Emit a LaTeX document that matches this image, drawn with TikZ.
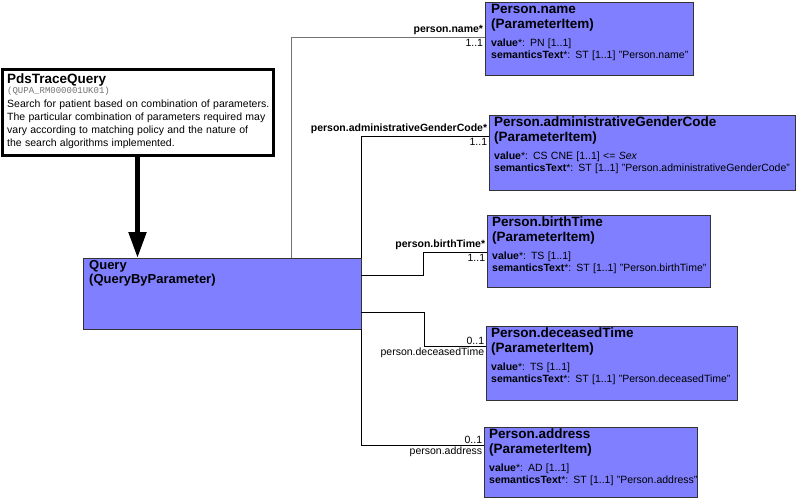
\documentclass[tikz,border=0pt]{standalone}
\usepackage{fontspec}
\setmainfont{Liberation Sans}
\newfontfamily\codefont{Liberation Mono}
\usetikzlibrary{arrows.meta,calc}
\definecolor{rimblue}{RGB}{127,127,255}
\tikzset{
  clsbox/.style  ={draw=black!80, fill=rimblue, line width=0.9pt, anchor=north west,
                   inner sep=0pt, outer sep=0pt},
  clstxt/.style  ={anchor=north west, align=left, inner sep=0pt},
  entrybox/.style={draw=black, line width=3pt, fill=white, anchor=north west,
                   inner sep=0pt, outer sep=0pt},
  conn/.style    ={draw=black, line width=0.8pt},
  connlt/.style  ={draw=black!55, line width=0.9pt},
  rolebf/.style  ={font=\fontsize{10.5}{12}\selectfont\bfseries, inner sep=1.5pt},
  rolelbl/.style ={font=\fontsize{10.5}{12}\selectfont, inner sep=1.5pt},
  card/.style    ={font=\fontsize{10.5}{12}\selectfont, inner sep=1.5pt},
  bigar/.style   ={line width=5pt, -{Triangle[length=26pt,width=17pt]}},
}
% title, value, semantics text of a parameter item
\newcommand{\pitem}[3]{%
  {\fontsize{13.5}{15}\selectfont\bfseries #1\\(ParameterItem)\par}%
  \vspace{6pt}%
  {\fontsize{10.5}{11.8}\selectfont\textbf{value}*: #2\\\textbf{semanticsText}*: ST [1..1] "#3"\par}}

\begin{document}
\begin{tikzpicture}[x=1pt,y=-1pt]
\useasboundingbox (0,0) rectangle (797,500);

% entry point
\node[entrybox, minimum width=271, minimum height=85] (pds) at (2,70) {};
\node[clstxt, text width=266] (pdstxt) at (7,74) {%
  {\fontsize{13.5}{15}\selectfont\bfseries PdsTraceQuery\par}%
  {\fontsize{9}{10}\codefont\color{black!55}(QUPA\_RM000001UK01)\par}%
  \vspace{1.3pt}%
  {\fontsize{10.5}{12.7}\selectfont Search for patient based on combination of parameters.\\
   The particular combination of parameters required may\\
   vary according to matching policy and the nature of\\
   the search algorithms implemented.\par}};

% query class
\node[clsbox, minimum width=278, minimum height=71] (query) at (83,258) {};
\node[clstxt, text width=260, font=\fontsize{13}{13.5}\selectfont\bfseries] (querytxt) at (89,260.5)
  {Query\\(QueryByParameter)};

% parameter items
\node[clsbox, minimum width=208, minimum height=73] (pname) at (485,2) {};
\node[clstxt, text width=300] (pnametxt) at (491,4) {\pitem{Person.name}{PN [1..1]}{Person.name}};

\node[clsbox, minimum width=306, minimum height=75] (pgender) at (489,115) {};
\node[clstxt, text width=302] (pgendertxt) at (494,117)
  {\pitem{Person.administrativeGenderCode}{CS CNE [1..1] <= \textit{Sex}}{Person.administrativeGenderCode}};

\node[clsbox, minimum width=223, minimum height=72] (pbirth) at (487,215) {};
\node[clstxt, text width=300] (pbirthtxt) at (492,217) {\pitem{Person.birthTime}{TS [1..1]}{Person.birthTime}};

\node[clsbox, minimum width=251, minimum height=74] (pdec) at (486,326) {};
\node[clstxt, text width=300] (pdectxt) at (491,328) {\pitem{Person.deceasedTime}{TS [1..1]}{Person.deceasedTime}};

\node[clsbox, minimum width=213, minimum height=70] (paddr) at (484,427) {};
\node[clstxt, text width=300] (paddrtxt) at (489,429) {\pitem{Person.address}{AD [1..1]}{Person.address}};

% entry arrow
\draw[bigar] (pds.south) -- (pds.south |- query.north);

% associations
\draw[connlt] (query.north -| 291,0) |- (pname.west |- 0,37)
  node[pos=1, rolebf, anchor=south east] (lname) {person.name*}
  node[pos=1, card, anchor=north east] (cname) {1..1};
\draw[conn] (query.north east) |- (pgender.west |- 0,136)
  node[pos=1, rolebf, anchor=south east] (lgender) {person.administrativeGenderCode*}
  node[pos=1, card, anchor=north east] (cgender) {1..1};
\draw[conn] (query.east |- 0,275) -- ++(62,0) |- (pbirth.west |- 0,252)
  node[pos=1, rolebf, anchor=south east] (lbirth) {person.birthTime*}
  node[pos=1, card, anchor=north east] (cbirth) {1..1};
\draw[conn] (query.east |- 0,312) -- ++(63,0) |- (pdec.west |- 0,346)
  node[pos=1, card, anchor=south east] (cdec) {0..1}
  node[pos=1, rolelbl, anchor=north east] (ldec) {person.deceasedTime};
\draw[conn] (query.south east) |- (paddr.west |- 0,445)
  node[pos=1, card, anchor=south east] (caddr) {0..1}
  node[pos=1, rolelbl, anchor=north east] (laddr) {person.address};
\end{tikzpicture}
\end{document}
